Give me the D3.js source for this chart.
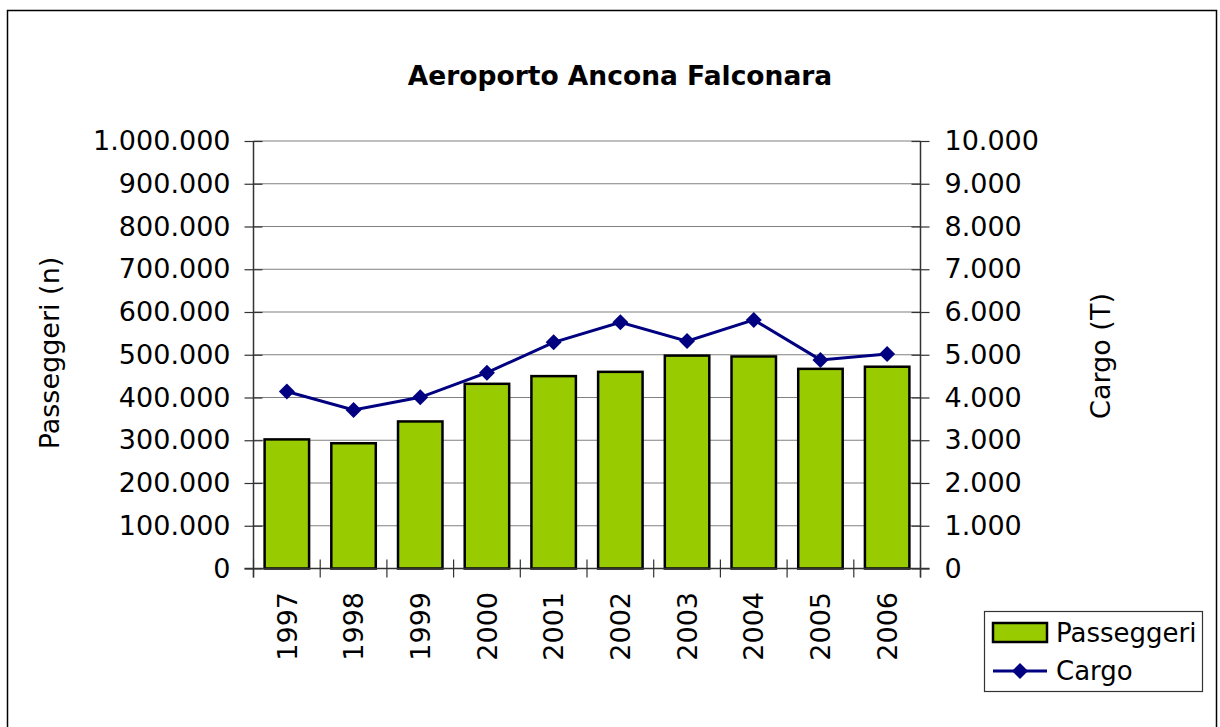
<!DOCTYPE html>
<html>
<head>
<meta charset="utf-8">
<script src="https://cdn.jsdelivr.net/npm/d3@7"></script>
<style>
  html, body { margin: 0; padding: 0; background: #fff; }
  svg { display: block; font-family: "DejaVu Sans", Verdana, sans-serif; }
</style>
</head>
<body>
<svg id="chart" width="1220" height="727"></svg>
<script>
const years = ["1997","1998","1999","2000","2001","2002","2003","2004","2005","2006"];
const passeggeri = [302000, 293000, 344000, 432000, 450000, 460000, 498000, 496000, 467000, 472000];
const cargo = [4140, 3710, 4005, 4580, 5290, 5760, 5320, 5815, 4880, 5020];
const leftTicks = [0,100000,200000,300000,400000,500000,600000,700000,800000,900000,1000000];
const rightTicks = [0,1000,2000,3000,4000,5000,6000,7000,8000,9000,10000];
const title = "Aeroporto Ancona Falconara";
const leftTitle = "Passeggeri (n)";
const rightTitle = "Cargo (T)";
const seriesNames = ["Passeggeri", "Cargo"];

const svg = d3.select("#chart");
const fmt = v => d3.format(",")(v).replace(/,/g, ".");

const L = 253.5, R = 920.5, T = 141, B = 568.5;

svg.append("rect").attr("x", 7.5).attr("y", 10.5).attr("width", 1209).attr("height", 740)
  .attr("fill", "#fff").attr("stroke", "#000").attr("stroke-width", 1.5);

const x = d3.scaleBand().domain(years).range([L, R]).paddingInner(1/3).paddingOuter(1/6);
const yL = d3.scaleLinear().domain([0, 1000000]).range([B, T]);
const yR = d3.scaleLinear().domain([0, 10000]).range([B, T]);

// gridlines
svg.append("g").selectAll("line").data(leftTicks.filter(d => d > 0)).join("line")
  .attr("x1", L).attr("x2", R).attr("y1", d => yL(d)).attr("y2", d => yL(d))
  .attr("stroke", "#808080").attr("stroke-width", 1.2);

// left axis
const axL = svg.append("g").attr("transform", `translate(${L},0)`)
  .call(d3.axisLeft(yL).tickValues(leftTicks).tickFormat(fmt).tickSize(9).tickPadding(14));
axL.select(".domain").remove();
axL.selectAll(".tick line").attr("x2", 9).attr("x1", -9).attr("stroke", "#333").attr("stroke-width", 1.2);
axL.selectAll(".tick text").attr("font-size", 27).attr("fill", "#000")
  .attr("font-family", "DejaVu Sans").attr("x", -23);

// right axis
const axR = svg.append("g").attr("transform", `translate(${R},0)`)
  .call(d3.axisRight(yR).tickValues(rightTicks).tickFormat(fmt).tickSize(9));
axR.select(".domain").remove();
axR.selectAll(".tick line").attr("x1", -9).attr("x2", 9).attr("stroke", "#333").attr("stroke-width", 1.2);
axR.selectAll(".tick text").attr("font-size", 27).attr("fill", "#000")
  .attr("font-family", "DejaVu Sans").attr("x", 24);

// bars
svg.append("g").selectAll("rect").data(years).join("rect")
  .attr("x", d => x(d)).attr("width", x.bandwidth())
  .attr("y", (d, i) => yL(passeggeri[i])).attr("height", (d, i) => B - yL(passeggeri[i]))
  .attr("fill", "#99CC00").attr("stroke", "#000").attr("stroke-width", 2.5);

// axis lines
svg.append("line").attr("x1", L).attr("x2", L).attr("y1", T).attr("y2", B + 9)
  .attr("stroke", "#333").attr("stroke-width", 1.5);
svg.append("line").attr("x1", R).attr("x2", R).attr("y1", T).attr("y2", B + 9)
  .attr("stroke", "#333").attr("stroke-width", 1.5);
svg.append("line").attr("x1", L - 9).attr("x2", R + 9).attr("y1", B).attr("y2", B)
  .attr("stroke", "#333").attr("stroke-width", 1.5);

// category ticks at band boundaries
const step = x.step();
const bounds = years.map((d, i) => L + i * step).concat([R]);
svg.append("g").selectAll("line").data(bounds).join("line")
  .attr("x1", d => d).attr("x2", d => d).attr("y1", B - 9).attr("y2", B + 9)
  .attr("stroke", "#333").attr("stroke-width", 1.2);

// year labels
svg.append("g").selectAll("text").data(years).join("text")
  .attr("transform", d => `translate(${x(d) + x.bandwidth() / 2},592) rotate(-90)`)
  .attr("text-anchor", "end").attr("dy", "0.36em")
  .attr("font-size", 27).text(d => d);

// cargo line
const cx = d => x(d) + x.bandwidth() / 2;
const line = d3.line().x((d, i) => cx(years[i])).y(d => yR(d));
svg.append("path").datum(cargo).attr("d", line)
  .attr("fill", "none").attr("stroke", "#000080").attr("stroke-width", 3);
const diamond = "M0,-8L8,0L0,8L-8,0Z";
svg.append("g").selectAll("path").data(cargo).join("path")
  .attr("transform", (d, i) => `translate(${cx(years[i])},${yR(d)})`)
  .attr("d", diamond).attr("fill", "#000080");

// title
svg.append("text").attr("x", 620).attr("y", 85).attr("text-anchor", "middle")
  .attr("font-size", 26.5).attr("font-weight", "bold").text(title);

// axis titles
svg.append("text").attr("transform", "translate(59,353) rotate(-90)")
  .attr("text-anchor", "middle").attr("font-size", 27).text(leftTitle);
svg.append("text").attr("transform", "translate(1110,356) rotate(-90)")
  .attr("text-anchor", "middle").attr("font-size", 27).text(rightTitle);

// legend
const lg = svg.append("g");
lg.append("rect").attr("x", 984.5).attr("y", 611.5).attr("width", 218).attr("height", 80)
  .attr("fill", "#fff").attr("stroke", "#333").attr("stroke-width", 1.2);
lg.append("rect").attr("x", 993).attr("y", 623).attr("width", 54).attr("height", 19)
  .attr("fill", "#99CC00").attr("stroke", "#000").attr("stroke-width", 2.5);
lg.append("text").attr("x", 1056).attr("y", 633).attr("dy", "0.36em").attr("font-size", 26).text(seriesNames[0]);
lg.append("line").attr("x1", 993).attr("x2", 1047).attr("y1", 671).attr("y2", 671)
  .attr("stroke", "#000080").attr("stroke-width", 3);
lg.append("path").attr("transform", "translate(1020,671)").attr("d", diamond).attr("fill", "#000080");
lg.append("text").attr("x", 1056).attr("y", 671).attr("dy", "0.36em").attr("font-size", 26).text(seriesNames[1]);
</script>
</body>
</html>
